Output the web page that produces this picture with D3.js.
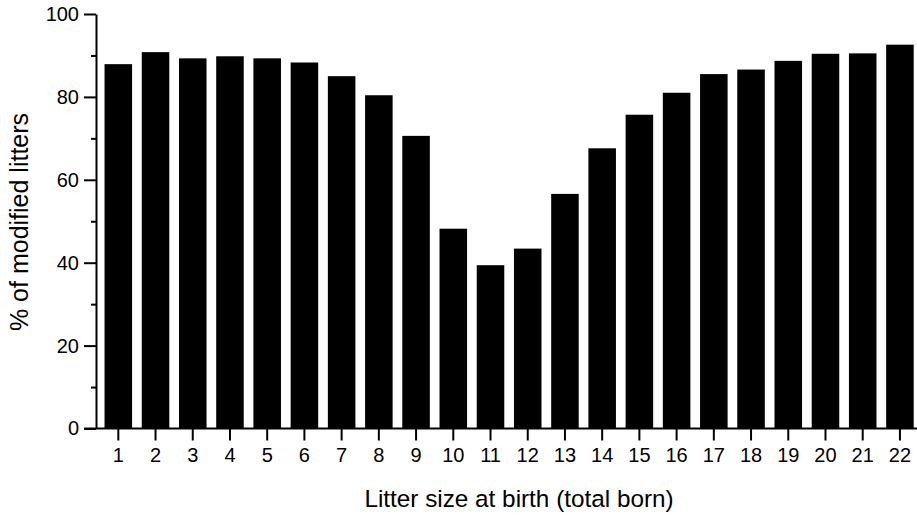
<!DOCTYPE html>
<html>
<head>
<meta charset="utf-8">
<script src="https://cdn.jsdelivr.net/npm/d3@7"></script>
<style>
  html, body { margin: 0; padding: 0; background: #fff; }
  svg { display: block; }
  text { font-family: Arial, "Liberation Sans", Helvetica, sans-serif; fill: #000; }
</style>
</head>
<body>
<svg id="chart" width="917" height="516"></svg>
<script>
// Litter size at birth (total born), 1 to 22
const litterSizes = ["1","2","3","4","5","6","7","8","9","10","11","12","13","14","15","16","17","18","19","20","21","22"];
// Percentage of modified litters for each litter size
const pctModified = [87.9, 90.8, 89.3, 89.8, 89.3, 88.3, 85.0, 80.4, 70.6, 48.2, 39.4, 43.4,
                     56.6, 67.6, 75.7, 81.0, 85.5, 86.6, 88.7, 90.4, 90.5, 92.6];
// Y axis ticks
const yMajorTicks = [0, 20, 40, 60, 80, 100];
const yMinorTicks = [10, 30, 50, 70, 90];

const xTitle = "Litter size at birth (total born)";
const yTitle = "% of modified litters";

const svg = d3.select("#chart");
const W = 917;
const axisX = 96;        // position of the vertical axis
const baseY = 428.5;     // position of the horizontal axis

const x = d3.scaleBand()
  .domain(litterSizes)
  .range([99.7, 99.7 + 22 * 37.22])
  .paddingInner(0.26)
  .paddingOuter(0.13);

const y = d3.scaleLinear()
  .domain([0, 100])
  .range([baseY, 14]);

// Bars
svg.append("g")
  .selectAll("rect")
  .data(pctModified)
  .join("rect")
  .attr("x", (d, i) => x(litterSizes[i]))
  .attr("width", x.bandwidth())
  .attr("y", d => y(d))
  .attr("height", d => y(0) - y(d))
  .attr("fill", "#000");

// X axis
const xAxis = svg.append("g")
  .attr("transform", `translate(0,${baseY})`)
  .call(d3.axisBottom(x).tickSize(12).tickPadding(7.5));
xAxis.select(".domain").remove();
xAxis.selectAll(".tick line").attr("stroke", "#000").attr("stroke-width", 2);
xAxis.selectAll(".tick text").attr("font-size", 20).attr("font-family", null);
xAxis.append("line")
  .attr("x1", axisX - 12).attr("x2", W)
  .attr("y1", 0).attr("y2", 0)
  .attr("stroke", "#000").attr("stroke-width", 2);

// Y axis: minor ticks
const yMinor = svg.append("g")
  .attr("transform", `translate(${axisX},0)`)
  .call(d3.axisLeft(y).tickValues(yMinorTicks).tickSize(5).tickFormat(""));
yMinor.select(".domain").remove();
yMinor.selectAll(".tick line").attr("stroke", "#000").attr("stroke-width", 2);

// Y axis: major ticks and labels
const yAxis = svg.append("g")
  .attr("transform", `translate(${axisX},0)`)
  .call(d3.axisLeft(y).tickValues(yMajorTicks).tickSize(12).tickPadding(5).tickSizeOuter(0));
yAxis.select(".domain").attr("stroke", "#000").attr("stroke-width", 2);
yAxis.selectAll(".tick line").attr("stroke", "#000").attr("stroke-width", 2);
yAxis.selectAll(".tick text").attr("font-size", 20).attr("font-family", null);

// Axis titles
svg.append("text")
  .attr("x", 519)
  .attr("y", 507)
  .attr("text-anchor", "middle")
  .attr("font-size", 24.3)
  .text(xTitle);

svg.append("text")
  .attr("transform", "translate(28,222) rotate(-90)")
  .attr("text-anchor", "middle")
  .attr("font-size", 25)
  .text(yTitle);
</script>
</body>
</html>
